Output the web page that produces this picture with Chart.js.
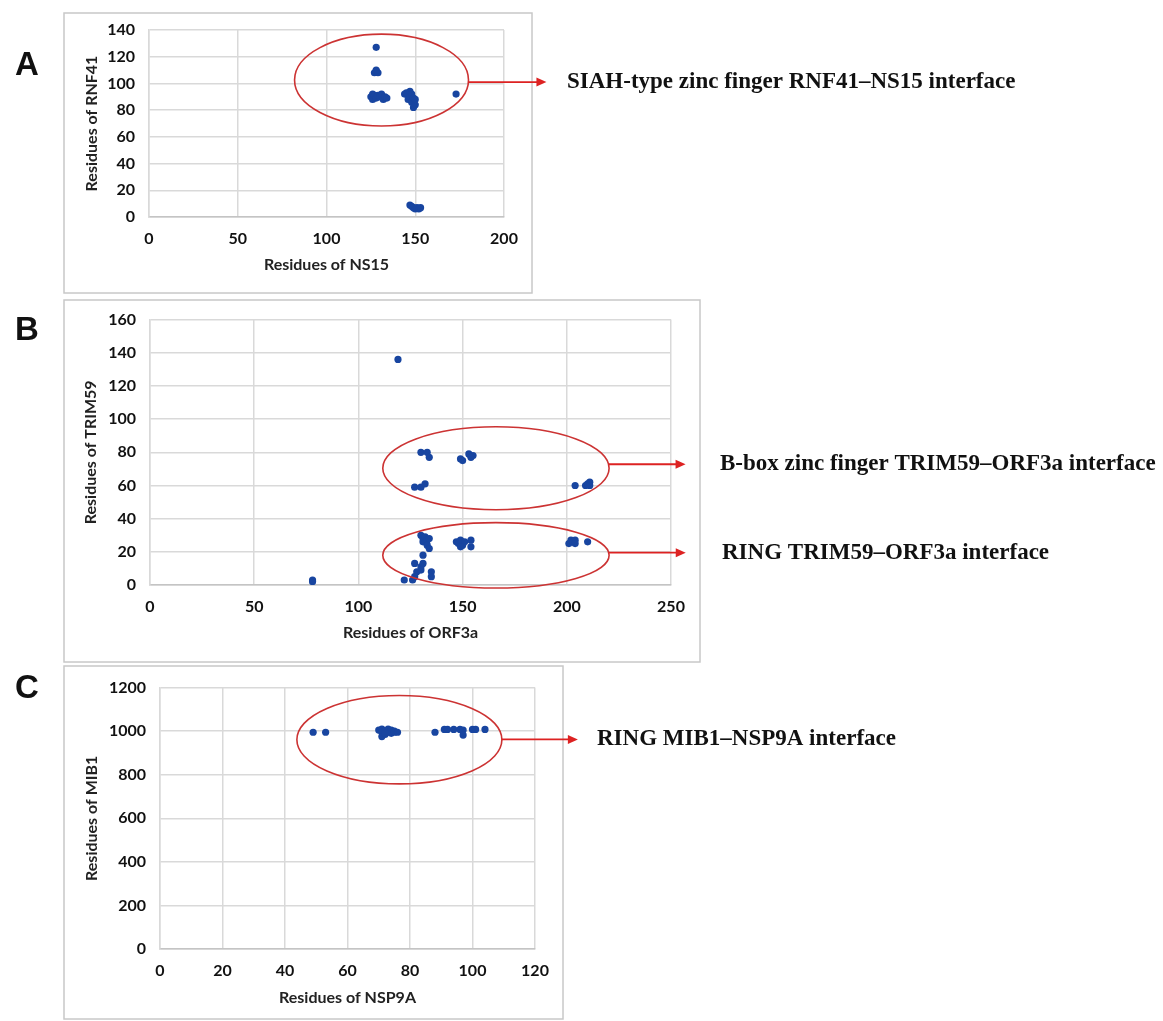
<!DOCTYPE html>
<html>
<head>
    <meta charset="UTF-8" />
    <title>Interface residues</title>
    <script src="https://cdn.jsdelivr.net/npm/chart.js@4.4.9/dist/chart.umd.min.js"></script>
    <style>
        body { margin: 0; background: #fff; }
        #wrap { position: relative; width: 1163px; height: 1021px; }
        canvas { position: absolute; left: 0; }
    </style>
</head>
<body>
<div id="wrap">
    <canvas id="chartA" width="1163" height="296" style="top:0px"></canvas>
    <canvas id="chartB" width="1163" height="368" style="top:296px"></canvas>
    <canvas id="chartC" width="1163" height="357" style="top:664px"></canvas>
</div>
<script>
    // Panel A: residues of NS15 (x) vs RNF41 (y)
    const ns15X  = [128, 127, 128, 129, 128, 125, 126, 126, 127, 128, 129, 130, 131, 132, 133, 134,
                    144, 145, 146, 147, 147, 148, 148, 149, 150, 149, 150, 173,
                    147, 148, 149, 150, 151, 152, 153];
    const rnf41Y = [127, 108, 109, 108, 110, 90, 88, 92, 91, 89, 91, 90, 92, 88, 90, 89,
                    92, 93, 88, 94, 90, 86, 92, 89, 84, 82, 88, 92,
                    9, 8, 7, 6, 7, 6, 7];

    // Panel B: residues of ORF3a (x) vs TRIM59 (y)
    const orf3aX  = [119, 78, 78,
                     130, 133, 134, 150, 149, 153, 155, 154, 127, 130, 132, 204, 209, 210, 211, 211,
                     130, 131, 131, 132, 133, 133, 134, 134, 147, 148, 149, 150, 151, 149, 154, 154,
                     201, 202, 203, 204, 204, 210,
                     131, 127, 130, 131, 128, 130, 135, 135, 122, 126, 127];
    const trim59Y = [136, 3, 2,
                     80, 80, 77, 75, 76, 79, 78, 77, 59, 59, 61, 60, 60, 61, 62, 60,
                     30, 28, 26, 29, 27, 24, 22, 28, 26, 25, 27, 24, 26, 23, 27, 23,
                     25, 27, 26, 27, 25, 26,
                     18, 13, 11, 13, 8, 9, 8, 5, 3, 3, 5];

    // Panel C: residues of NSP9A (x) vs MIB1 (y)
    const nsp9aX = [49, 53, 70, 71, 71, 72, 72, 73, 73, 74, 74, 75, 75, 76, 71, 72,
                    88, 91, 92, 94, 96, 97, 97, 100, 101, 104];
    const mib1Y  = [995, 995, 1005, 1010, 995, 1000, 985, 1010, 995, 1005, 990, 1000, 995, 995, 975, 990,
                    995, 1008, 1008, 1008, 1008, 1005, 982, 1008, 1008, 1008];

    // Axis ranges / titles
    const axesA = {xMax: 200, xStep: 50, yMax: 140, yStep: 20, xTitle: 'Residues of NS15', yTitle: 'Residues of RNF41'};
    const axesB = {xMax: 250, xStep: 50, yMax: 160, yStep: 20, xTitle: 'Residues of ORF3a', yTitle: 'Residues of TRIM59'};
    const axesC = {xMax: 120, xStep: 20, yMax: 1200, yStep: 200, xTitle: 'Residues of NSP9A', yTitle: 'Residues of MIB1'};

    // Circled regions (data units) with their labels
    const calloutsA = [
        {cx: 131, cy: 102.5, rx: 49, ry: 34.4, arrowY: 101, arrowLen: 78, textX: 567,
         text: 'SIAH-type zinc finger RNF41\u2013NS15 interface'}
    ];
    const calloutsB = [
        {cx: 166, cy: 70.4, rx: 54.3, ry: 25, arrowY: 72.8, arrowLen: 77, textX: 720,
         text: 'B-box zinc finger TRIM59\u2013ORF3a interface'},
        {cx: 166, cy: 17.9, rx: 54.3, ry: 19.7, arrowY: 19.5, arrowLen: 77, textX: 722,
         text: 'RING TRIM59\u2013ORF3a interface'}
    ];
    const calloutsC = [
        {cx: 76.6, cy: 961, rx: 32.8, ry: 203, arrowY: 962, arrowLen: 76, textX: 597,
         text: 'RING MIB1\u2013NSP9A interface'}
    ];

    const calloutPlugin = {
        id: 'callouts',
        beforeDraw(chart, args, opts) {
            const ctx = chart.ctx;
            const f = opts.frame;
            ctx.save();
            ctx.strokeStyle = '#c8c8c8';
            ctx.lineWidth = 1.5;
            ctx.strokeRect(f[0], f[1], f[2] - f[0], f[3] - f[1]);
            ctx.fillStyle = '#111';
            ctx.font = 'bold 33px "Liberation Sans", Arial, sans-serif';
            ctx.textAlign = 'center';
            ctx.textBaseline = 'middle';
            ctx.fillText(opts.letter, opts.letterPos[0], opts.letterPos[1]);
            ctx.restore();
        },
        afterDraw(chart, args, opts) {
            const {ctx, scales: {x, y}} = chart;
            opts.items.forEach(it => {
                const cx = x.getPixelForValue(it.cx);
                const cy = y.getPixelForValue(it.cy);
                const rx = x.getPixelForValue(it.cx + it.rx) - cx;
                const ry = cy - y.getPixelForValue(it.cy + it.ry);
                ctx.save();
                ctx.strokeStyle = '#cc3333';
                ctx.lineWidth = 1.6;
                ctx.beginPath();
                ctx.ellipse(cx, cy, rx, ry, 0, 0, Math.PI * 2);
                ctx.stroke();

                // arrow leaves the ellipse on its right side
                const ay = y.getPixelForValue(it.arrowY);
                const t = (ay - cy) / ry;
                const ax = cx + rx * Math.sqrt(Math.max(0, 1 - t * t));
                const tip = ax + it.arrowLen;
                ctx.strokeStyle = '#dd2222';
                ctx.lineWidth = 1.8;
                ctx.beginPath();
                ctx.moveTo(ax, ay);
                ctx.lineTo(tip - 6, ay);
                ctx.stroke();
                ctx.fillStyle = '#dd2222';
                ctx.beginPath();
                ctx.moveTo(tip, ay);
                ctx.lineTo(tip - 10, ay - 4.5);
                ctx.lineTo(tip - 10, ay + 4.5);
                ctx.closePath();
                ctx.fill();

                ctx.fillStyle = '#111';
                ctx.font = 'bold 23px "Liberation Serif", "Times New Roman", serif';
                ctx.textAlign = 'left';
                ctx.textBaseline = 'middle';
                ctx.fillText(it.text, it.textX, ay);
                ctx.restore();
            });
        }
    };

    const labelFont = {family: 'Lato', size: 16, weight: 'bold'};
    const half = 16 * 1.2 / 2;

    // box: canvas height, plot area (relative to canvas), title positions
    function makeChart(id, xs, ys, axes, box, callouts) {
        const [l, t, r, b] = box.area;
        const xh = box.xTitleY - b + half;
        const points = xs.map((v, i) => ({x: v, y: ys[i]}));
        return new Chart(document.getElementById(id), {
            type: 'scatter',
            data: {
                datasets: [{
                    data: points,
                    pointRadius: 3.6,
                    pointBackgroundColor: '#1845a0',
                    pointBorderWidth: 0
                }]
            },
            options: {
                responsive: false,
                animation: false,
                layout: {padding: {left: 64, top: t, right: 1163 - r, bottom: box.H - b - xh}},
                plugins: {
                    legend: {display: false},
                    tooltip: {enabled: false},
                    callouts: {frame: box.frame, letter: box.letter, letterPos: box.letterPos, items: callouts}
                },
                scales: {
                    x: {
                        type: 'linear', min: 0, max: axes.xMax,
                        ticks: {stepSize: axes.xStep, font: labelFont, color: '#111', padding: 12,
                                callback: v => String(v)},
                        grid: {color: '#d9d9d9', lineWidth: 1.5, drawTicks: false},
                        border: {color: '#c4c4c4', width: 1.5},
                        title: {display: true, text: axes.xTitle, font: labelFont, color: '#222', padding: {top: 0, bottom: 0}},
                        afterFit(s) { s.height = xh; }
                    },
                    y: {
                        type: 'linear', min: 0, max: axes.yMax,
                        ticks: {stepSize: axes.yStep, font: labelFont, color: '#111', padding: 14,
                                callback: v => String(v)},
                        grid: {color: '#d9d9d9', lineWidth: 1.5, drawTicks: false},
                        border: {color: '#d9d9d9', width: 1.5},
                        title: {display: true, text: axes.yTitle, font: labelFont, color: '#222', padding: {top: box.yTitleX - 64 - half, bottom: 0}},
                        afterFit(s) { s.width = l - 64; }
                    }
                }
            },
            plugins: [calloutPlugin]
        });
    }

    makeChart('chartA', ns15X, rnf41Y, axesA,
        {H: 296, area: [149, 30, 504, 217], xTitleY: 265, yTitleX: 92,
         frame: [64, 13, 532, 293], letter: 'A', letterPos: [27, 66]}, calloutsA);
    makeChart('chartB', orf3aX, trim59Y, axesB,
        {H: 368, area: [150, 21, 671, 289], xTitleY: 337, yTitleX: 91,
         frame: [64, 4, 700, 366], letter: 'B', letterPos: [27, 35]}, calloutsB);
    makeChart('chartC', nsp9aX, mib1Y, axesC,
        {H: 357, area: [160, 19, 535, 285], xTitleY: 334, yTitleX: 92,
         frame: [64, 2, 563, 355], letter: 'C', letterPos: [27, 25]}, calloutsC);
</script>
</body>
</html>
